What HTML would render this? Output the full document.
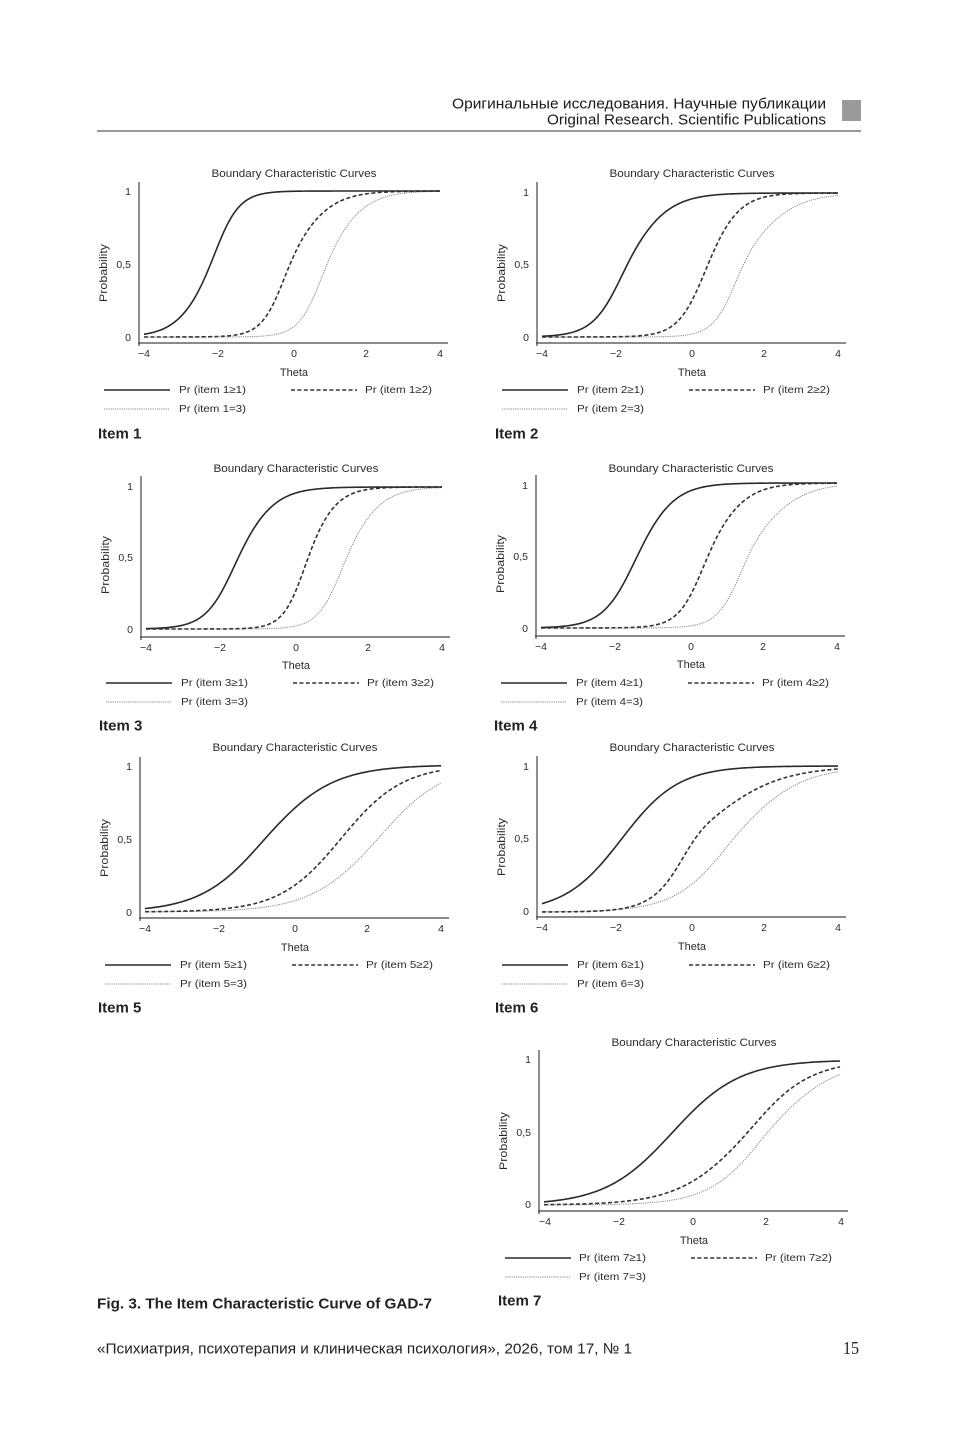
<!DOCTYPE html>
<html><head><meta charset="utf-8">
<style>
html,body{margin:0;padding:0;background:#fff;}
svg{display:block;}
text{font-family:"Liberation Sans","Noto Sans CJK SC",sans-serif;fill:#2b2b2b;dominant-baseline:central;}
.t{font-size:11px;}
.tk{font-size:10.5px;}
.lg{font-size:10.5px;}
.it{font-size:15px;font-weight:bold;fill:#222;}
.ax{stroke:#444;stroke-width:1.2;fill:none;}
.s{stroke:#2a2a2a;stroke-width:1.6;fill:none;}
.d{stroke:#333;stroke-width:1.6;fill:none;stroke-dasharray:4 2.4;}
.o{stroke:#8a8a8a;stroke-width:1;fill:none;stroke-dasharray:1.2 1;}
</style></head>
<body>
<svg width="964" height="1436" viewBox="0 0 964 1436" xmlns="http://www.w3.org/2000/svg">
<rect x="0" y="0" width="964" height="1436" fill="#fff"/>
<!-- header -->
<text x="452" y="104" font-size="15" textLength="374" lengthAdjust="spacingAndGlyphs" style="fill:#1a1a1a">Оригинальные исследования. Научные публикации</text>
<text x="547" y="120" font-size="15" textLength="279" lengthAdjust="spacingAndGlyphs" style="fill:#1a1a1a">Original Research. Scientific Publications</text>
<rect x="842" y="100" width="19" height="21" fill="#9a9a9a"/>
<line x1="97" y1="131" x2="861" y2="131" stroke="#333" stroke-width="1"/>

<!-- Chart 1 -->
<g transform="translate(139,343)">
<line class="ax" x1="0" y1="-161" x2="0" y2="3"/>
<line class="ax" x1="-1" y1="0" x2="309" y2="0"/>
<text class="t" x="155" y="-169" text-anchor="middle" textLength="165" lengthAdjust="spacingAndGlyphs">Boundary Characteristic Curves</text>
<text class="tk" x="-8" y="-151" text-anchor="end">1</text>
<text class="tk" x="-8" y="-78" text-anchor="end">0,5</text>
<text class="tk" x="-8" y="-5" text-anchor="end">0</text>
<text class="t" transform="translate(-35,-70) rotate(-90)" text-anchor="middle" textLength="58" lengthAdjust="spacingAndGlyphs">Probability</text>
<text class="tk" x="5" y="11" text-anchor="middle">−4</text>
<text class="tk" x="79" y="11" text-anchor="middle">−2</text>
<text class="tk" x="155" y="11" text-anchor="middle">0</text>
<text class="tk" x="227" y="11" text-anchor="middle">2</text>
<text class="tk" x="301" y="11" text-anchor="middle">4</text>
<text class="t" x="155" y="30" text-anchor="middle">Theta</text>
<line class="s" x1="-35" y1="47" x2="31" y2="47"/>
<text class="lg" x="40" y="47" textLength="67" lengthAdjust="spacingAndGlyphs">Pr (item 1≥1)</text>
<line class="d" x1="152" y1="47" x2="218" y2="47"/>
<text class="lg" x="226" y="47" textLength="67" lengthAdjust="spacingAndGlyphs">Pr (item 1≥2)</text>
<line class="o" x1="-35" y1="66" x2="31" y2="66"/>
<text class="lg" x="40" y="66" textLength="67" lengthAdjust="spacingAndGlyphs">Pr (item 1=3)</text>
<text class="it" x="-41" y="91">Item 1</text>
<path class="o" id="c1o"/><path class="d" id="c1d"/><path class="s" id="c1s"/>
</g>

<!-- Chart 2 -->
<g transform="translate(537,343)">
<line class="ax" x1="0" y1="-161" x2="0" y2="3"/>
<line class="ax" x1="-1" y1="0" x2="309" y2="0"/>
<text class="t" x="155" y="-169" text-anchor="middle" textLength="165" lengthAdjust="spacingAndGlyphs">Boundary Characteristic Curves</text>
<text class="tk" x="-8" y="-150" text-anchor="end">1</text>
<text class="tk" x="-8" y="-78" text-anchor="end">0,5</text>
<text class="tk" x="-8" y="-5" text-anchor="end">0</text>
<text class="t" transform="translate(-35,-70) rotate(-90)" text-anchor="middle" textLength="58" lengthAdjust="spacingAndGlyphs">Probability</text>
<text class="tk" x="5" y="11" text-anchor="middle">−4</text>
<text class="tk" x="79" y="11" text-anchor="middle">−2</text>
<text class="tk" x="155" y="11" text-anchor="middle">0</text>
<text class="tk" x="227" y="11" text-anchor="middle">2</text>
<text class="tk" x="301" y="11" text-anchor="middle">4</text>
<text class="t" x="155" y="30" text-anchor="middle">Theta</text>
<line class="s" x1="-35" y1="47" x2="31" y2="47"/>
<text class="lg" x="40" y="47" textLength="67" lengthAdjust="spacingAndGlyphs">Pr (item 2≥1)</text>
<line class="d" x1="152" y1="47" x2="218" y2="47"/>
<text class="lg" x="226" y="47" textLength="67" lengthAdjust="spacingAndGlyphs">Pr (item 2≥2)</text>
<line class="o" x1="-35" y1="66" x2="31" y2="66"/>
<text class="lg" x="40" y="66" textLength="67" lengthAdjust="spacingAndGlyphs">Pr (item 2=3)</text>
<text class="it" x="-42" y="91">Item 2</text>
<path class="o" id="c2o"/><path class="d" id="c2d"/><path class="s" id="c2s"/>
</g>

<!-- Chart 3 -->
<g transform="translate(141,637)">
<line class="ax" x1="0" y1="-161" x2="0" y2="3"/>
<line class="ax" x1="-1" y1="0" x2="309" y2="0"/>
<text class="t" x="155" y="-168" text-anchor="middle" textLength="165" lengthAdjust="spacingAndGlyphs">Boundary Characteristic Curves</text>
<text class="tk" x="-8" y="-150" text-anchor="end">1</text>
<text class="tk" x="-8" y="-79" text-anchor="end">0,5</text>
<text class="tk" x="-8" y="-7" text-anchor="end">0</text>
<text class="t" transform="translate(-35,-72) rotate(-90)" text-anchor="middle" textLength="58" lengthAdjust="spacingAndGlyphs">Probability</text>
<text class="tk" x="5" y="11" text-anchor="middle">−4</text>
<text class="tk" x="79" y="11" text-anchor="middle">−2</text>
<text class="tk" x="155" y="11" text-anchor="middle">0</text>
<text class="tk" x="227" y="11" text-anchor="middle">2</text>
<text class="tk" x="301" y="11" text-anchor="middle">4</text>
<text class="t" x="155" y="29" text-anchor="middle">Theta</text>
<line class="s" x1="-35" y1="46" x2="31" y2="46"/>
<text class="lg" x="40" y="46" textLength="67" lengthAdjust="spacingAndGlyphs">Pr (item 3≥1)</text>
<line class="d" x1="152" y1="46" x2="218" y2="46"/>
<text class="lg" x="226" y="46" textLength="67" lengthAdjust="spacingAndGlyphs">Pr (item 3≥2)</text>
<line class="o" x1="-35" y1="65" x2="31" y2="65"/>
<text class="lg" x="40" y="65" textLength="67" lengthAdjust="spacingAndGlyphs">Pr (item 3=3)</text>
<text class="it" x="-42" y="89">Item 3</text>
<path class="o" id="c3o"/><path class="d" id="c3d"/><path class="s" id="c3s"/>
</g>

<!-- Chart 4 -->
<g transform="translate(536,636)">
<line class="ax" x1="0" y1="-161" x2="0" y2="3"/>
<line class="ax" x1="-1" y1="0" x2="309" y2="0"/>
<text class="t" x="155" y="-167" text-anchor="middle" textLength="165" lengthAdjust="spacingAndGlyphs">Boundary Characteristic Curves</text>
<text class="tk" x="-8" y="-150" text-anchor="end">1</text>
<text class="tk" x="-8" y="-79" text-anchor="end">0,5</text>
<text class="tk" x="-8" y="-7" text-anchor="end">0</text>
<text class="t" transform="translate(-35,-72) rotate(-90)" text-anchor="middle" textLength="58" lengthAdjust="spacingAndGlyphs">Probability</text>
<text class="tk" x="5" y="11" text-anchor="middle">−4</text>
<text class="tk" x="79" y="11" text-anchor="middle">−2</text>
<text class="tk" x="155" y="11" text-anchor="middle">0</text>
<text class="tk" x="227" y="11" text-anchor="middle">2</text>
<text class="tk" x="301" y="11" text-anchor="middle">4</text>
<text class="t" x="155" y="29" text-anchor="middle">Theta</text>
<line class="s" x1="-35" y1="47" x2="31" y2="47"/>
<text class="lg" x="40" y="47" textLength="67" lengthAdjust="spacingAndGlyphs">Pr (item 4≥1)</text>
<line class="d" x1="152" y1="47" x2="218" y2="47"/>
<text class="lg" x="226" y="47" textLength="67" lengthAdjust="spacingAndGlyphs">Pr (item 4≥2)</text>
<line class="o" x1="-35" y1="66" x2="31" y2="66"/>
<text class="lg" x="40" y="66" textLength="67" lengthAdjust="spacingAndGlyphs">Pr (item 4=3)</text>
<text class="it" x="-42" y="90">Item 4</text>
<path class="o" id="c4o"/><path class="d" id="c4d"/><path class="s" id="c4s"/>
</g>

<!-- Chart 5 -->
<g transform="translate(140,918)">
<line class="ax" x1="0" y1="-161" x2="0" y2="3"/>
<line class="ax" x1="-1" y1="0" x2="309" y2="0"/>
<text class="t" x="155" y="-170" text-anchor="middle" textLength="165" lengthAdjust="spacingAndGlyphs">Boundary Characteristic Curves</text>
<text class="tk" x="-8" y="-151" text-anchor="end">1</text>
<text class="tk" x="-8" y="-78" text-anchor="end">0,5</text>
<text class="tk" x="-8" y="-5" text-anchor="end">0</text>
<text class="t" transform="translate(-35,-70) rotate(-90)" text-anchor="middle" textLength="58" lengthAdjust="spacingAndGlyphs">Probability</text>
<text class="tk" x="5" y="11" text-anchor="middle">−4</text>
<text class="tk" x="79" y="11" text-anchor="middle">−2</text>
<text class="tk" x="155" y="11" text-anchor="middle">0</text>
<text class="tk" x="227" y="11" text-anchor="middle">2</text>
<text class="tk" x="301" y="11" text-anchor="middle">4</text>
<text class="t" x="155" y="30" text-anchor="middle">Theta</text>
<line class="s" x1="-35" y1="47" x2="31" y2="47"/>
<text class="lg" x="40" y="47" textLength="67" lengthAdjust="spacingAndGlyphs">Pr (item 5≥1)</text>
<line class="d" x1="152" y1="47" x2="218" y2="47"/>
<text class="lg" x="226" y="47" textLength="67" lengthAdjust="spacingAndGlyphs">Pr (item 5≥2)</text>
<line class="o" x1="-35" y1="66" x2="31" y2="66"/>
<text class="lg" x="40" y="66" textLength="67" lengthAdjust="spacingAndGlyphs">Pr (item 5=3)</text>
<text class="it" x="-42" y="90">Item 5</text>
<path class="o" id="c5o"/><path class="d" id="c5d"/><path class="s" id="c5s"/>
</g>

<!-- Chart 6 -->
<g transform="translate(537,917)">
<line class="ax" x1="0" y1="-161" x2="0" y2="3"/>
<line class="ax" x1="-1" y1="0" x2="309" y2="0"/>
<text class="t" x="155" y="-169" text-anchor="middle" textLength="165" lengthAdjust="spacingAndGlyphs">Boundary Characteristic Curves</text>
<text class="tk" x="-8" y="-150" text-anchor="end">1</text>
<text class="tk" x="-8" y="-78" text-anchor="end">0,5</text>
<text class="tk" x="-8" y="-5" text-anchor="end">0</text>
<text class="t" transform="translate(-35,-70) rotate(-90)" text-anchor="middle" textLength="58" lengthAdjust="spacingAndGlyphs">Probability</text>
<text class="tk" x="5" y="11" text-anchor="middle">−4</text>
<text class="tk" x="79" y="11" text-anchor="middle">−2</text>
<text class="tk" x="155" y="11" text-anchor="middle">0</text>
<text class="tk" x="227" y="11" text-anchor="middle">2</text>
<text class="tk" x="301" y="11" text-anchor="middle">4</text>
<text class="t" x="155" y="30" text-anchor="middle">Theta</text>
<line class="s" x1="-35" y1="48" x2="31" y2="48"/>
<text class="lg" x="40" y="48" textLength="67" lengthAdjust="spacingAndGlyphs">Pr (item 6≥1)</text>
<line class="d" x1="152" y1="48" x2="218" y2="48"/>
<text class="lg" x="226" y="48" textLength="67" lengthAdjust="spacingAndGlyphs">Pr (item 6≥2)</text>
<line class="o" x1="-35" y1="67" x2="31" y2="67"/>
<text class="lg" x="40" y="67" textLength="67" lengthAdjust="spacingAndGlyphs">Pr (item 6=3)</text>
<text class="it" x="-42" y="91">Item 6</text>
<path class="o" id="c6o"/><path class="d" id="c6d"/><path class="s" id="c6s"/>
</g>

<!-- Chart 7 -->
<g transform="translate(539,1211)">
<line class="ax" x1="0" y1="-161" x2="0" y2="3"/>
<line class="ax" x1="-1" y1="0" x2="309" y2="0"/>
<text class="t" x="155" y="-168" text-anchor="middle" textLength="165" lengthAdjust="spacingAndGlyphs">Boundary Characteristic Curves</text>
<text class="tk" x="-8" y="-151" text-anchor="end">1</text>
<text class="tk" x="-8" y="-78" text-anchor="end">0,5</text>
<text class="tk" x="-8" y="-6" text-anchor="end">0</text>
<text class="t" transform="translate(-35,-70) rotate(-90)" text-anchor="middle" textLength="58" lengthAdjust="spacingAndGlyphs">Probability</text>
<text class="tk" x="6" y="11" text-anchor="middle">−4</text>
<text class="tk" x="80" y="11" text-anchor="middle">−2</text>
<text class="tk" x="154" y="11" text-anchor="middle">0</text>
<text class="tk" x="227" y="11" text-anchor="middle">2</text>
<text class="tk" x="302" y="11" text-anchor="middle">4</text>
<text class="t" x="155" y="30" text-anchor="middle">Theta</text>
<line class="s" x1="-34" y1="47" x2="32" y2="47"/>
<text class="lg" x="40" y="47" textLength="67" lengthAdjust="spacingAndGlyphs">Pr (item 7≥1)</text>
<line class="d" x1="152" y1="47" x2="218" y2="47"/>
<text class="lg" x="226" y="47" textLength="67" lengthAdjust="spacingAndGlyphs">Pr (item 7≥2)</text>
<line class="o" x1="-34" y1="66" x2="32" y2="66"/>
<text class="lg" x="40" y="66" textLength="67" lengthAdjust="spacingAndGlyphs">Pr (item 7=3)</text>
<text class="it" x="-41" y="90">Item 7</text>
<path class="o" id="c7o"/><path class="d" id="c7d"/><path class="s" id="c7s"/>
</g>

<!-- footer -->
<text x="97" y="1304" font-size="15" font-weight="bold" textLength="335" lengthAdjust="spacingAndGlyphs" style="fill:#222">Fig. 3. The Item Characteristic Curve of GAD-7</text>
<text x="97" y="1349" font-size="15" textLength="535" lengthAdjust="spacingAndGlyphs" style="fill:#222">«Психиатрия, психотерапия и клиническая психология», 2026, том 17, № 1</text>
<text x="843" y="1348" font-size="18" textLength="16" lengthAdjust="spacingAndGlyphs" style="font-family:'Liberation Serif',serif;fill:#222">15</text>
</svg>
<script>
(function(){
var P=[
 [[-2.2,2.2,2.8],[-0.05,2.9,1.9],[0.95,2.9,2.0]],
 [[-1.7,2.3,1.8],[0.48,2.6,2.3],[1.44,2.8,1.6]],
 [[-1.51,2.4,2.0],[0.38,3.2,2.5],[1.42,2.8,2.1]],
 [[-1.39,2.2,2.0],[0.52,2.7,2.0],[1.61,2.7,1.6]],
 [[-0.75,1.15,1.1],[1.3,1.2,1.2],[2.3,1.1,1.15]],
 [[-1.85,1.3,1.3],[0.13,1.9,1.0],[1.17,1.3,1.13]],
 [[-0.53,1.1,1.1],[1.5,1.1,1.2],[2.04,1.3,1.12]]
];
var Y=[[-6,-152],[-6,-150],[-8,-150],[-8,-153],[-6,-153],[-5,-151],[-6,-151]];
var suf=['s','d','o'];
for(var i=0;i<7;i++){
 for(var j=0;j<3;j++){
  var b=P[i][j][0],aL=P[i][j][1],aH=P[i][j][2];
  var d='';
  for(var k=0;k<=160;k++){
   var t=-4+k*0.05;
   var w=1/(1+Math.exp(-3*(t-b)));
   var a=aL*(1-w)+aH*w;
   var p=1/(1+Math.exp(-a*(t-b)));
   var x=5+(t+4)*37;
   var y=Y[i][0]+p*(Y[i][1]-Y[i][0]);
   d+=(k?'L':'M')+x.toFixed(2)+','+y.toFixed(2);
  }
  var el=document.getElementById('c'+(i+1)+suf[j]);
  if(el) el.setAttribute('d',d);
 }
}
})();
</script>
</body></html>
